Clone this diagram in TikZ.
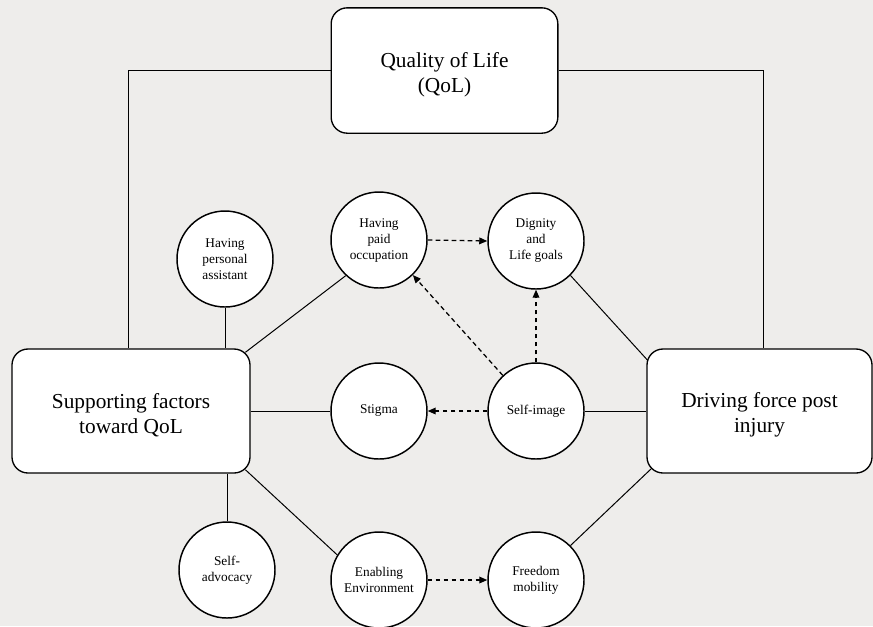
\documentclass[tikz,border=0pt]{standalone}
\usepackage{fontspec}
\setmainfont{Liberation Serif}
\usetikzlibrary{arrows.meta}
\definecolor{bgc}{RGB}{238,237,235}
\newcommand{\downstrut}{\rule{0pt}{17pt}}
\begin{document}
\begin{tikzpicture}[x=0.75pt,y=-0.75pt,
  bigbox/.style={draw,fill=white,rounded corners=12pt,line width=1pt,align=center,
    font=\fontsize{16}{18.8}\selectfont,inner sep=0pt},
  factor/.style={draw,fill=white,circle,line width=1.1pt,minimum size=72pt,inner sep=0pt,
    align=center,font=\fontsize{10}{12}\selectfont},
  link/.style={line width=0.75pt},
  dlink/.style={line width=0.95pt,dash pattern=on 3.5pt off 2.5pt,-{Triangle[length=6pt,width=5pt]}}]
\fill[bgc] (0,0) rectangle (873,626);
\useasboundingbox (0,0) rectangle (873,626);
\node[bigbox,minimum width=170pt,minimum height=94pt] (QoL) at (444.5,70.5) {\downstrut Quality of Life\\(QoL)};
\node[bigbox,minimum width=178.5pt,minimum height=93pt] (Sup) at (131,411) {\downstrut Supporting factors\\toward QoL};
\node[bigbox,minimum width=168.75pt,minimum height=93pt] (Drv) at (759.5,411) {\downstrut Driving force post\\injury};
\node[factor] (PA) at (225,259) {Having\\personal\\assistant};
\node[factor] (Occ) at (379,240) {Having\\paid\\occupation};
\node[factor] (Dig) at (536,241) {Dignity\\and\\Life goals};
\node[factor] (Stig) at (379,411) {Stigma};
\node[factor] (Self) at (536,411) {Self-image};
\node[factor] (Adv) at (227,570) {Self-\\advocacy};
\node[factor] (Env) at (379,580) {Enabling\\Environment};
\node[factor] (Free) at (536,580) {Freedom\\mobility};
\coordinate (cl) at (128,0);
\coordinate (cr) at (763,0);
\draw[link] (QoL.west) -| (Sup.north -| cl);
\draw[link] (QoL.east) -| (Drv.north -| cr);
\draw[link] (PA.south) -- (PA.south |- Sup.north);
\draw[link] (Adv.north) -- (Adv.north |- Sup.south);
\draw[link] ([xshift=-4pt,yshift=-3pt]Sup.north east) -- (Occ.227);
\draw[link] (Sup.east) -- (Stig.west);
\draw[link] ([xshift=-4pt,yshift=3pt]Sup.south east) -- (Env.149);
\draw[link] (Dig.-45) -- ([xshift=1pt,yshift=-9pt]Drv.north west);
\draw[link] (Self.east) -- (Drv.west);
\draw[link] (Free.45) -- ([xshift=4pt,yshift=4pt]Drv.south west);
\draw[dlink] (Occ.east) -- (Dig.west);
\draw[dlink] (Self.north) -- (Dig.south);
\draw[dlink] (Self.west) -- (Stig.east);
\draw[dlink] (Env.east) -- (Free.west);
\draw[dlink] (Self.133) -- (Occ.-46);
\end{tikzpicture}
\end{document}
